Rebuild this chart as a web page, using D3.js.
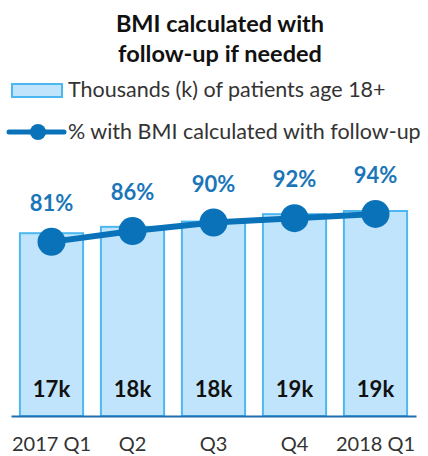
<!DOCTYPE html>
<html>
<head>
<meta charset="utf-8">
<script src="https://cdn.jsdelivr.net/npm/d3@7"></script>
<style>
  html, body { margin: 0; padding: 0; background: #fff; }
  svg text { font-family: Lato, "Open Sans", sans-serif; }
</style>
</head>
<body>
<svg id="chart" width="428" height="456"></svg>
<script>
// Quarterly data
const quarters = ["2017 Q1", "Q2", "Q3", "Q4", "2018 Q1"];
const patientsK = [17.3, 17.9, 18.4, 19.1, 19.4];     // thousands of patients age 18+
const pctBMI = [81, 86, 90, 92, 94];                 // % with BMI calculated with follow-up

const titleLines = ["BMI calculated with", "follow-up if needed"];
const legendBars = "Thousands (k) of patients age 18+";
const legendLine = "% with BMI calculated with follow-up";

const svg = d3.select("#chart");
const baseY = 416;

const x = d3.scaleBand()
  .domain(quarters)
  .range([11, 416])
  .paddingInner(0.22)
  .paddingOuter(0.11);

const yPct = d3.scaleLinear().domain([0, 100]).range([baseY, 201]);
const yK = d3.scaleLinear().domain([0, 19.4]).range([baseY, 211]);

// Title
svg.append("g").selectAll("text")
  .data(titleLines)
  .join("text")
  .attr("x", 220)
  .attr("y", (d, i) => 32 + i * 30)
  .attr("text-anchor", "middle")
  .attr("font-size", 23.5)
  .attr("font-weight", "bold")
  .attr("fill", "#111")
  .text(d => d);

// Legend
const lg = svg.append("g");
lg.append("rect")
  .attr("x", 12).attr("y", 84).attr("width", 50).attr("height", 13)
  .attr("fill", "#bfe4fb").attr("stroke", "#4db8f0").attr("stroke-width", 2);
lg.append("text")
  .attr("x", 68).attr("y", 97)
  .attr("font-size", 21.5).attr("fill", "#333")
  .text(legendBars);
lg.append("line")
  .attr("x1", 9).attr("x2", 64).attr("y1", 132).attr("y2", 132)
  .attr("stroke", "#0a72b8").attr("stroke-width", 5).attr("stroke-linecap", "round");
lg.append("circle")
  .attr("cx", 38).attr("cy", 132).attr("r", 8).attr("fill", "#0a72b8");
lg.append("text")
  .attr("x", 68).attr("y", 139)
  .attr("font-size", 21.5).attr("fill", "#333")
  .text(legendLine);

// Bars
const bars = svg.append("g");
bars.selectAll("rect")
  .data(quarters)
  .join("rect")
  .attr("x", d => x(d))
  .attr("y", (d, i) => yK(patientsK[i]))
  .attr("width", x.bandwidth())
  .attr("height", (d, i) => baseY - yK(patientsK[i]))
  .attr("fill", "#bfe4fb")
  .attr("stroke", "#4db8f0")
  .attr("stroke-width", 2);

// Bar value labels
bars.selectAll("text")
  .data(quarters)
  .join("text")
  .attr("x", d => x(d) + x.bandwidth() / 2)
  .attr("y", 397)
  .attr("text-anchor", "middle")
  .attr("font-size", 22)
  .attr("font-weight", "bold")
  .attr("fill", "#111")
  .text((d, i) => Math.round(patientsK[i]) + "k");

// X axis
const axis = svg.append("g")
  .attr("transform", `translate(0,${baseY})`)
  .call(d3.axisBottom(x).tickSize(0).tickPadding(21));
axis.select(".domain").attr("stroke", "#1f6fb0").attr("stroke-width", 2);
axis.selectAll("text")
  .attr("font-size", 20)
  .attr("fill", "#333")
  .style("font-family", "Lato, 'Open Sans', sans-serif");

// Percentage line
const cx = d => x(d) + x.bandwidth() / 2;
const line = d3.line()
  .x(d => cx(d))
  .y((d, i) => yPct(pctBMI[i]));
const lineG = svg.append("g");
lineG.append("path")
  .datum(quarters)
  .attr("d", line)
  .attr("fill", "none")
  .attr("stroke", "#0a72b8")
  .attr("stroke-width", 6);
lineG.selectAll("circle")
  .data(quarters)
  .join("circle")
  .attr("cx", cx)
  .attr("cy", (d, i) => yPct(pctBMI[i]))
  .attr("r", 14)
  .attr("fill", "#0a72b8");
lineG.selectAll("text")
  .data(quarters)
  .join("text")
  .attr("x", cx)
  .attr("y", (d, i) => yPct(pctBMI[i]) - 31)
  .attr("text-anchor", "middle")
  .attr("font-size", 22)
  .attr("font-weight", "bold")
  .attr("fill", "#1a76b8")
  .text((d, i) => pctBMI[i] + "%");
</script>
</body>
</html>
